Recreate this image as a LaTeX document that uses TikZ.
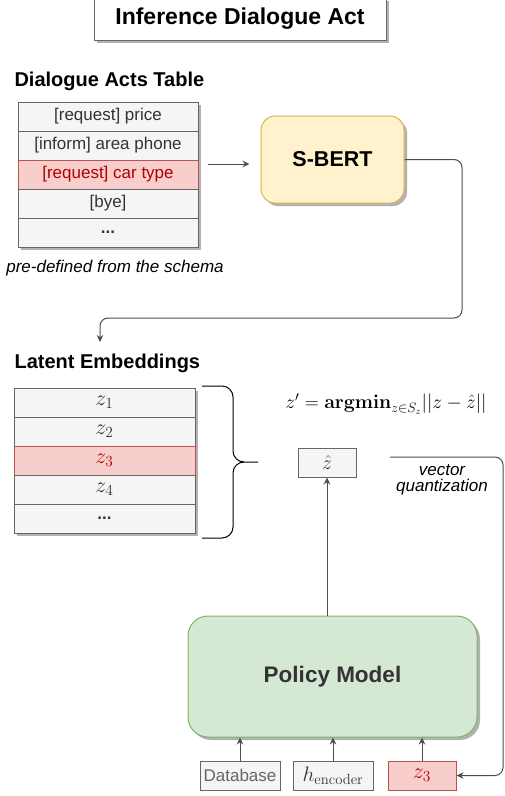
\RequirePackage{fix-cm}
\documentclass[tikz,border=0pt]{standalone}
\usepackage[no-math]{fontspec}
\setmainfont{Liberation Sans}
\usepackage{amsmath}
\usepackage{tikz}
\usetikzlibrary{arrows,arrows.meta,shapes,positioning,calc,shadows}

\definecolor{boxfill}{HTML}{F5F5F5}
\definecolor{boxline}{HTML}{666666}
\definecolor{boxtext}{HTML}{333333}
\definecolor{hotfill}{HTML}{F8CECC}
\definecolor{hotline}{HTML}{B85450}
\definecolor{hottext}{HTML}{B20000}
\definecolor{bertfill}{HTML}{FFF2CC}
\definecolor{bertline}{HTML}{D6B656}
\definecolor{polfill}{HTML}{D5E8D4}
\definecolor{polline}{HTML}{82B366}
\definecolor{linkgray}{HTML}{4D4D4D}

\tikzset{
	shade/.style={drop shadow={shadow xshift=3pt,shadow yshift=-3pt,opacity=0.3,fill=black}},
	box/.style={draw=boxline,fill=boxfill,text=boxtext,inner sep=0pt,line width=1pt,font=\fontsize{17}{20}\selectfont},
	row/.style={box,shade,minimum width=180pt,minimum height=29pt},
	hot/.style={draw=hotline,fill=hotfill,text=hottext},
	mathrow/.style={font=\fontsize{22}{26}\selectfont},
	head/.style={anchor=west,font=\fontsize{20}{24}\selectfont\bfseries},
	note/.style={font=\fontsize{17}{16.5}\selectfont\itshape,align=center},
	link/.style={-{Stealth[length=7pt,width=6.5pt]},draw=linkgray,line width=1pt},
}

\begin{document}
\begin{tikzpicture}[x=1pt,y=-1pt]
	\useasboundingbox (0,0) rectangle (505,796);

	\node[box,shade,fill=white,text=black,minimum width=292pt,minimum height=42pt,font=\fontsize{23}{26}\selectfont\bfseries] (title) at (240,19) {Inference Dialogue Act};

	\node[head] (acthead) at (11,81) {Dialogue Acts Table};
	\node[row    ] (a1) at (108,116.5) {[request] price};
	\node[row    ] (a2) at (108,145.5) {[inform] area phone};
	\node[row,hot] (a3) at (108,174.5) {[request] car type};
	\node[row    ] (a4) at (108,203.5) {[bye]};
	\node[row    ] (a5) at (108,232.5) {\textbf{...}};
	\node[note] (schema) at (115,268) {pre-defined from the schema};

	\node[box,shade,fill=bertfill,draw=bertline,text=black,rounded corners=14pt,minimum width=143pt,minimum height=87pt,font=\fontsize{21.5}{24}\selectfont\bfseries] (sbert) at (332.5,159.5) {S-BERT};

	\coordinate (tab) at (208,164);
	\coordinate (emb) at (100,342);
	\draw[link,shorten >=11pt] (tab) -- (sbert.west |- tab);
	\draw[link,rounded corners=8pt] (sbert.east) -| (462,318) -| (emb);

	\node[head] (embhead) at (11,363) {Latent Embeddings};
	\node[row,minimum width=181pt,mathrow    ] (e1) at (104.5,402.5) {$z_1$};
	\node[row,minimum width=181pt,mathrow    ] (e2) at (104.5,431.5) {$z_2$};
	\node[row,minimum width=181pt,mathrow,hot] (e3) at (104.5,460.5) {$z_3$};
	\node[row,minimum width=181pt,mathrow    ] (e4) at (104.5,489.5) {$z_4$};
	\node[row,minimum width=181pt            ] (e5) at (104.5,518.5) {\textbf{...}};

	\draw[line width=1pt] (202,386) -- (222,386) to[out=0,in=90] (233,397) -- (233,451) to[out=-90,in=180] (244,462) -- (258,462);
	\draw[line width=1pt] (244,462) to[out=180,in=90] (233,473) -- (233,527) to[out=-90,in=0] (222,538) -- (202,538);

	\node[font=\fontsize{19.5}{22}\selectfont] (argmin) at (386,404) {$z' = \mathbf{argmin}_{z\in S_z}||z-\hat{z}||$};

	\node[box,minimum width=58pt,minimum height=29pt,font=\fontsize{20}{24}\selectfont] (zhat) at (327,462.5) {$\hat{z}$};
	\node[note] (vqlabel) at (442,480) {vector\\quantization};
	\coordinate (vq) at (390,457);

	\node[box,shade,fill=polfill,draw=polline,rounded corners=20pt,minimum width=289pt,minimum height=121pt,font=\fontsize{22.5}{26}\selectfont\bfseries] (policy) at (332.5,676.5) {Policy Model};

	\node[box,text=boxline,minimum width=80pt,minimum height=29pt] (db) at (240,775.5) {Database};
	\node[box,minimum width=80pt,minimum height=29pt,font=\fontsize{21}{24}\selectfont] (enc) at (333,775.5) {$h_{\mathrm{encoder}}$};
	\node[box,hot,minimum width=68pt,minimum height=29pt,mathrow] (z3) at (422,775.5) {$z_3$};

	\draw[link] (zhat.south |- policy.north) -- (zhat.south);
	\draw[link] (db.north) -- (db.north |- policy.south);
	\draw[link] (enc.north) -- (enc.north |- policy.south);
	\draw[link] (z3.north) -- (z3.north |- policy.south);
	\draw[link,rounded corners=8pt] (vq) -- (503,457) |- (z3.east);
\end{tikzpicture}
\end{document}
